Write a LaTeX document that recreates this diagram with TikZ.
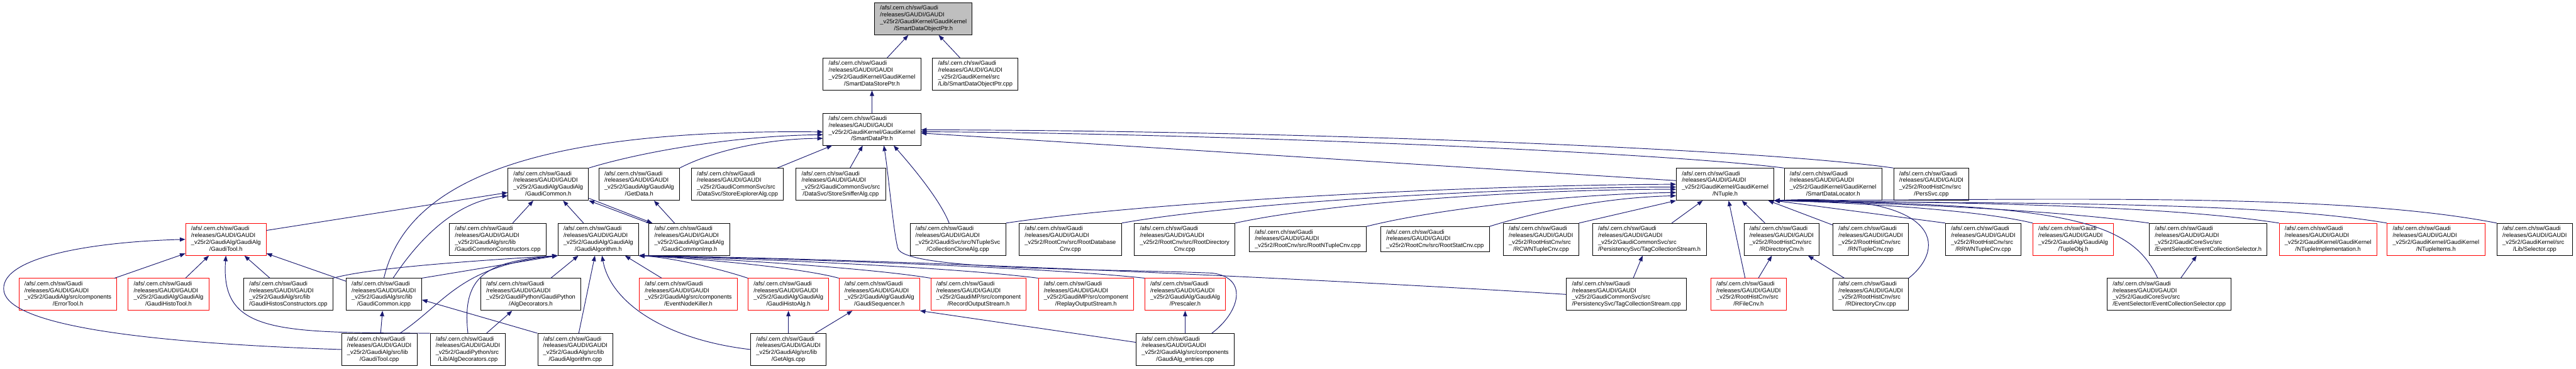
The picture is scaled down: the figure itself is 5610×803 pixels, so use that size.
\documentclass[tikz,border=0pt]{standalone}
\usepackage{fontspec}
\setmainfont{Liberation Sans}
\usepackage{tikz}
\usetikzlibrary{arrows.meta}
\definecolor{edgeColor}{HTML}{191970}
\definecolor{rootFill}{HTML}{BFBFBF}
\newcommand{\incpath}[2]{\begin{tabular}{@{}l@{}}/afs/.cern.ch/sw/Gaudi\\/releases/GAUDI/GAUDI\\\_v25r2/#1\\\multicolumn{1}{@{}c@{}}{#2}\end{tabular}}
\newcommand{\incpathshort}[1]{\begin{tabular}{@{}l@{}}/afs/.cern.ch/sw/Gaudi\\/releases/GAUDI/GAUDI\\\_v25r2/#1\end{tabular}}

\begin{document}
\begin{tikzpicture}[x=1pt, y=-1pt,
    filebox/.style={draw=black, line width=1.2pt, fill=white, inner xsep=12pt, inner ysep=5.5pt,
        font=\fontsize{12.8}{14.7}\selectfont},
    truncbox/.style={filebox, draw=red},
    rootbox/.style={filebox, fill=rootFill},
    incl/.style={draw=edgeColor, line width=1.3pt, -{Triangle[length=12pt, width=9pt]}}]
    \useasboundingbox (0,0) rectangle (5610,803);
    % rows 1 to 3
    \node[rootbox] (objptr) at (2011,41) {\incpath{GaudiKernel/GaudiKernel}{/SmartDataObjectPtr.h}};
    \node[filebox] (storeptr) at (1899,161.5) {\incpath{GaudiKernel/GaudiKernel}{/SmartDataStorePtr.h}};
    \node[filebox] (objptrcpp) at (2124,161.5) {\incpath{GaudiKernel/src}{/Lib/SmartDataObjectPtr.cpp}};
    \node[filebox] (dataptr) at (1899,281.5) {\incpath{GaudiKernel/GaudiKernel}{/SmartDataPtr.h}};
    % row 4
    \node[filebox] (gcommonh) at (1194,401.5) {\incpath{GaudiAlg/GaudiAlg}{/GaudiCommon.h}};
    \node[filebox] (getdata) at (1392,401.5) {\incpath{GaudiAlg/GaudiAlg}{/GetData.h}};
    \node[filebox] (explorer) at (1606,401.5) {\incpath{GaudiCommonSvc/src}{/DataSvc/StoreExplorerAlg.cpp}};
    \node[filebox] (sniffer) at (1831,401.5) {\incpath{GaudiCommonSvc/src}{/DataSvc/StoreSnifferAlg.cpp}};
    \node[filebox] (ntuple) at (3757,401.5) {\incpath{GaudiKernel/GaudiKernel}{/NTuple.h}};
    \node[filebox] (locator) at (3992,401.5) {\incpath{GaudiKernel/GaudiKernel}{/SmartDataLocator.h}};
    \node[filebox] (perssvc) at (4206,401.5) {\incpath{RootHistCnv/src}{/PersSvc.cpp}};
    % row 5
    \node[truncbox] (gtoolh) at (492,521.5) {\incpath{GaudiAlg/GaudiAlg}{/GaudiTool.h}};
    \node[filebox] (gcconstr) at (1084,521.5) {\incpath{GaudiAlg/src/lib}{/GaudiCommonConstructors.cpp}};
    \node[filebox] (galgh) at (1303,521.5) {\incpath{GaudiAlg/GaudiAlg}{/GaudiAlgorithm.h}};
    \node[filebox] (gcimp) at (1501,521.5) {\incpath{GaudiAlg/GaudiAlg}{/GaudiCommonImp.h}};
    \node[filebox] (cloneal) at (2086,521.5) {\incpath{GaudiSvc/src/NTupleSvc}{/CollectionCloneAlg.cpp}};
    \node[filebox] (rootdb) at (2331,521.5) {\incpath{RootCnv/src/RootDatabase}{Cnv.cpp}};
    \node[filebox] (rootdir) at (2580,521.5) {\incpath{RootCnv/src/RootDirectory}{Cnv.cpp}};
    \node[filebox] (rootnt) at (2848,521.5) {\incpathshort{RootCnv/src/RootNTupleCnv.cpp}};
    \node[filebox] (rootstat) at (3125,521.5) {\incpathshort{RootCnv/src/RootStatCnv.cpp}};
    \node[filebox] (rcwnt) at (3356,521.5) {\incpath{RootHistCnv/src}{/RCWNTupleCnv.cpp}};
    \node[filebox] (tagh) at (3592,521.5) {\incpath{GaudiCommonSvc/src}{/PersistencySvc/TagCollectionStream.h}};
    \node[filebox] (rdirh) at (3880,521.5) {\incpath{RootHistCnv/src}{/RDirectoryCnv.h}};
    \node[filebox] (rntcpp) at (4074,521.5) {\incpath{RootHistCnv/src}{/RNTupleCnv.cpp}};
    \node[filebox] (rrwnt) at (4319,521.5) {\incpath{RootHistCnv/src}{/RRWNTupleCnv.cpp}};
    \node[truncbox] (tupleobj) at (4515,521.5) {\incpath{GaudiAlg/GaudiAlg}{/TupleObj.h}};
    \node[filebox] (ecselh) at (4809,521.5) {\incpath{GaudiCoreSvc/src}{/EventSelector/EventCollectionSelector.h}};
    \node[truncbox] (ntimpl) at (5070,521.5) {\incpath{GaudiKernel/GaudiKernel}{/NTupleImplementation.h}};
    \node[truncbox] (ntitems) at (5305,521.5) {\incpath{GaudiKernel/GaudiKernel}{/NTupleItems.h}};
    \node[filebox] (selector) at (5520,521.5) {\incpath{GaudiKernel/src}{/Lib/Selector.cpp}};
    % row 6
    \node[truncbox] (errtool) at (148,641.5) {\incpath{GaudiAlg/src/components}{/ErrorTool.h}};
    \node[truncbox] (histotool) at (367,641.5) {\incpath{GaudiAlg/GaudiAlg}{/GaudiHistoTool.h}};
    \node[filebox] (histoscon) at (628,641.5) {\incpath{GaudiAlg/src/lib}{/GaudiHistosConstructors.cpp}};
    \node[filebox] (gcicpp) at (836,641.5) {\incpath{GaudiAlg/src/lib}{/GaudiCommon.icpp}};
    \node[filebox] (algdech) at (1156,641.5) {\incpath{GaudiPython/GaudiPython}{/AlgDecorators.h}};
    \node[truncbox] (evkiller) at (1499,641.5) {\incpath{GaudiAlg/src/components}{/EventNodeKiller.h}};
    \node[truncbox] (histoalg) at (1717,641.5) {\incpath{GaudiAlg/GaudiAlg}{/GaudiHistoAlg.h}};
    \node[truncbox] (gseq) at (1915,641.5) {\incpath{GaudiAlg/GaudiAlg}{/GaudiSequencer.h}};
    \node[truncbox] (recout) at (2131,641.5) {\incpath{GaudiMP/src/component}{/RecordOutputStream.h}};
    \node[truncbox] (repout) at (2365,641.5) {\incpath{GaudiMP/src/component}{/ReplayOutputStream.h}};
    \node[truncbox] (prescaler) at (2581,641.5) {\incpath{GaudiAlg/GaudiAlg}{/Prescaler.h}};
    \node[filebox] (tagcpp) at (3542,641.5) {\incpath{GaudiCommonSvc/src}{/PersistencySvc/TagCollectionStream.cpp}};
    \node[truncbox] (rfilecnv) at (3808,641.5) {\incpath{RootHistCnv/src}{/RFileCnv.h}};
    \node[filebox] (rdircpp) at (4074,641.5) {\incpath{RootHistCnv/src}{/RDirectoryCnv.cpp}};
    \node[filebox] (ecselcpp) at (4724,641.5) {\incpath{GaudiCoreSvc/src}{/EventSelector/EventCollectionSelector.cpp}};
    % row 7
    \node[filebox] (gtoolcpp) at (826,761.5) {\incpath{GaudiAlg/src/lib}{/GaudiTool.cpp}};
    \node[filebox] (algdeccpp) at (1019,761.5) {\incpath{GaudiPython/src}{/Lib/AlgDecorators.cpp}};
    \node[filebox] (galgcpp) at (1253,761.5) {\incpath{GaudiAlg/src/lib}{/GaudiAlgorithm.cpp}};
    \node[filebox] (getalgs) at (1717,761.5) {\incpath{GaudiAlg/src/lib}{/GetAlgs.cpp}};
    \node[filebox] (entries) at (2581,761.5) {\incpath{GaudiAlg/src/components}{/GaudiAlg\_entries.cpp}};

    % top of the tree
    \draw[incl] (storeptr) -- (objptr);
    \draw[incl] (objptrcpp) -- (objptr);
    \draw[incl] (dataptr) -- (storeptr);
    % SmartDataPtr.h
    \draw[incl] (gcicpp.north) .. controls (880,420) and (1100,280) .. ([yshift=-6pt]dataptr.west);
    \draw[incl] (gcommonh.north east) .. controls (1400,330) and (1600,296) .. ([yshift=-12pt]dataptr.west);
    \draw[incl] (getdata.north east) .. controls (1560,325) and (1680,302) .. ([yshift=-20pt]dataptr.west);
    \draw[incl] (explorer) -- (dataptr);
    \draw[incl] (sniffer) -- (dataptr);
    \draw[incl] ([xshift=-19pt]cloneal.north) .. controls (2045,430) and (1975,350) .. (dataptr.-37);
    \draw[incl] ([xshift=58pt]entries.north) .. controls (2700,680) and (2720,605) .. (2640,595)
        .. controls (2400,585) and (1965,590) .. (1955,540) .. controls (1945,500) and (1935,380) .. (dataptr.-54);
    \draw[incl] ([yshift=8pt]ntuple.west) -- ([yshift=-8.5pt]dataptr.east);
    \draw[incl] (locator.north west) .. controls (3600,330) and (2600,290) .. ([yshift=-5.5pt]dataptr.east);
    \draw[incl] (perssvc.north west) .. controls (3800,320) and (2700,283) .. ([yshift=-1.5pt]dataptr.east);
    % GaudiCommon.h and GetData.h
    \draw[incl] (gcconstr) -- (gcommonh);
    \draw[incl] (galgh) -- (gcommonh);
    \draw[incl] (gcimp.north west) -- (gcommonh.south east);
    \draw[incl] ([yshift=5pt]gcommonh.south east) -- ([xshift=8pt]gcimp.north west);
    \draw[incl] ([yshift=-16pt]gtoolh.north east) -- ([yshift=-18pt]gcommonh.west);
    \draw[incl] ([xshift=20pt]gcicpp.north) .. controls (900,540) and (980,440) .. ([yshift=-25pt]gcommonh.west);
    \draw[incl] (gcimp) -- (getdata);
    % GaudiTool.h
    \draw[incl] (errtool) -- (gtoolh);
    \draw[incl] (histotool) -- (gtoolh);
    \draw[incl] (histoscon) -- (gtoolh);
    \draw[incl] (gcicpp) -- (gtoolh);
    \draw[incl] (gtoolcpp.west) .. controls (250,745) and (10,700) .. (8,630)
        .. controls (5,560) and (200,527) .. (gtoolh.west);
    \draw[incl] (algdeccpp.north west) .. controls (600,725) and (480,725) .. (gtoolh.south);
    % GaudiAlgorithm.h
    \draw[incl] (algdech) -- (galgh);
    \draw[incl] (evkiller) -- (galgh);
    \draw[incl] (galgcpp) -- (galgh);
    \draw[incl] (histoalg.north west) .. controls (1550,580) and (1450,560) .. (galgh.south east);
    \draw[incl] (gseq.north west) .. controls (1750,585) and (1550,565) .. (galgh.south east);
    \draw[incl] (recout.north west) .. controls (1900,585) and (1600,565) .. (galgh.south east);
    \draw[incl] (repout.north west) .. controls (2100,585) and (1700,565) .. (galgh.south east);
    \draw[incl] (prescaler.north west) .. controls (2300,585) and (1800,565) .. (galgh.south east);
    \draw[incl] (tagcpp.west) .. controls (3000,615) and (2000,565) .. (galgh.south east);
    \draw[incl] (histoscon.north east) .. controls (800,585) and (1000,570) .. (galgh.south west);
    \draw[incl] (gcicpp.north east) -- (galgh.south west);
    \draw[incl] ([xshift=45pt]gtoolcpp.north) .. controls (970,660) and (1000,580) .. (galgh.south west);
    \draw[incl] (algdeccpp.north) .. controls (1005,600) and (1060,570) .. (galgh.south west);
    \draw[incl] (getalgs.west) .. controls (1450,740) and (1330,660) .. ([xshift=8pt]galgh.south);
    % lower rows
    \draw[incl] (gtoolcpp) -- (gcicpp);
    \draw[incl] (galgcpp.north west) -- (gcicpp.-8);
    \draw[incl] (algdeccpp) -- (algdech);
    \draw[incl] (getalgs) -- (histoalg);
    \draw[incl] (getalgs) -- (gseq);
    \draw[incl] (entries) -- (gseq.south east);
    \draw[incl] (entries) -- (prescaler);
    % NTuple.h
    \draw[incl] (cloneal.north east) .. controls (2500,440) and (3200,403) .. (ntuple.west);
    \draw[incl] (rootdb.north east) .. controls (2700,440) and (3300,408) .. ([yshift=-6pt]ntuple.west);
    \draw[incl] (rootdir.north east) .. controls (2900,440) and (3350,412) .. ([yshift=-11pt]ntuple.west);
    \draw[incl] (rootnt.north east) .. controls (3150,450) and (3450,422) .. ([yshift=-18pt]ntuple.west);
    \draw[incl] (rootstat.north east) .. controls (3350,460) and (3500,430) .. ([yshift=-25pt]ntuple.west);
    \draw[incl] (rcwnt.north east) -- (ntuple.south west);
    \draw[incl] (tagcpp) -- (tagh);
    \draw[incl] (tagh) -- (ntuple);
    \draw[incl] (rfilecnv) -- (ntuple);
    \draw[incl] (rfilecnv) -- (rdirh);
    \draw[incl] (rdirh) -- (ntuple);
    \draw[incl] (rntcpp) -- (ntuple);
    \draw[incl] (rdircpp) -- (rdirh);
    \draw[incl] (rdircpp.north east) .. controls (4240,540) and (4230,420) .. (ntuple.south east);
    \draw[incl] (rrwnt.north west) -- (ntuple.south east);
    \draw[incl] (tupleobj.north west) .. controls (4300,455) and (4000,440) .. (ntuple.south east);
    \draw[incl] ([xshift=-25pt]ecselcpp.north) .. controls (4640,480) and (4500,445) .. (ntuple.south east);
    \draw[incl] (ecselcpp) -- (ecselh);
    \draw[incl] (ecselh.north west) .. controls (4450,455) and (4100,442) .. (ntuple.south east);
    \draw[incl] (ntimpl.north west) .. controls (4700,445) and (4200,440) .. (ntuple.south east);
    \draw[incl] (ntitems.north west) .. controls (4900,435) and (4300,445) .. (ntuple.south east);
    \draw[incl] (selector.north west) .. controls (5100,420) and (4500,435) .. (ntuple.south east);
\end{tikzpicture}
\end{document}
